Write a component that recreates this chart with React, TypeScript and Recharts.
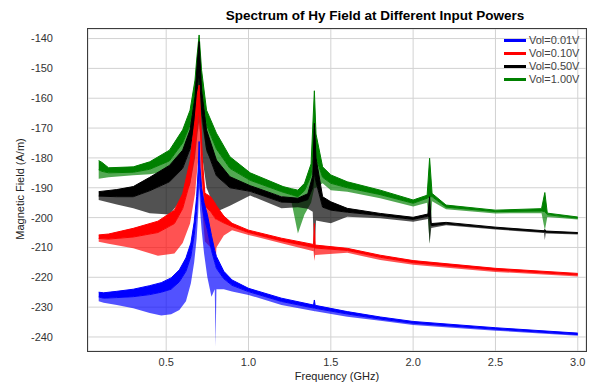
import React from 'react';
import { ComposedChart, Area, XAxis, YAxis, CartesianGrid } from 'recharts';

// ---------- data (GHz, A/m) : upper envelope, solid core edge, comb lower envelope ----------
const blueFreq = [0.09, 0.12, 0.2, 0.3, 0.4, 0.47, 0.53, 0.58, 0.62, 0.65, 0.67, 0.685, 0.695, 0.7, 0.705, 0.715, 0.73, 0.75, 0.775, 0.795, 0.8, 0.805, 0.85, 0.9, 1.0, 1.2, 1.395, 1.4, 1.405, 1.6, 1.8, 2.0, 2.5, 3.0];
const blueTop = [-225.0, -225.2, -224.7, -224.0, -222.8, -221.8, -220.2, -217.5, -213.5, -208.5, -201.5, -193, -183, -174.5, -183, -190, -195, -199, -206, -211, -212, -213, -218, -220.9, -223.7, -227.0, -229.3, -227.6, -229.4, -231.5, -233.3, -234.8, -236.9, -238.7];
const blueCore = [-226.6, -227.0, -226.8, -226.5, -225.8, -225.0, -224.0, -221.5, -218.0, -213.0, -206.0, -198, -189, -181, -189, -195, -200, -204, -211, -215, -216, -217, -220.5, -222.7, -224.8, -228.1, -230.3, -230.3, -230.4, -232.3, -234.0, -235.4, -237.4, -239.2];
const blueBottom = [-228.0, -228.5, -229.3, -230.4, -232.0, -232.8, -232.4, -231.0, -228.0, -222.0, -215.0, -207, -198, -190, -197, -204, -212, -220, -226.5, -224, -243.2, -224, -224, -224.8, -225.9, -229.3, -231.3, -231.4, -231.4, -233.2, -234.6, -236.0, -237.9, -239.6];

const redFreq = [0.09, 0.15, 0.3, 0.45, 0.55, 0.6, 0.645, 0.675, 0.69, 0.7, 0.71, 0.72, 0.735, 0.77, 0.795, 0.8, 0.805, 0.85, 0.9, 1.0, 1.2, 1.395, 1.4, 1.405, 1.6, 1.8, 2.0, 2.5, 3.0];
const redTop = [-205.8, -205.5, -203.6, -201.2, -197.5, -192, -181, -167.3, -158.3, -155.6, -167.3, -180.7, -191.8, -193, -195, -195.5, -196, -199.5, -201.9, -204.2, -206.9, -209.0, -202.0, -209.2, -210.3, -212.6, -214.4, -217.0, -218.7];
const redCore = [-207.0, -207.2, -206.5, -205.0, -202.0, -197, -188, -176, -167, -163, -173, -186, -196, -198, -200, -200.5, -200.5, -201.8, -203.0, -205.0, -207.8, -210.0, -210.0, -210.2, -211.0, -213.3, -215.1, -217.6, -219.2];
const redBottom = [-208.1, -208.8, -210.3, -212.8, -212.0, -208.5, -202, -192, -183, -178, -187, -198, -208, -210, -211, -216, -210, -206, -204.2, -205.8, -208.6, -211.3, -214.5, -212.5, -211.8, -214.2, -215.8, -218.2, -219.7];

const blackFreq = [0.09, 0.2, 0.3, 0.4, 0.52, 0.6, 0.645, 0.675, 0.69, 0.7, 0.715, 0.745, 0.805, 0.887, 1.01, 1.2, 1.3, 1.36, 1.39, 1.4, 1.41, 1.45, 1.5, 1.6, 1.8, 2.0, 2.09, 2.1, 2.11, 2.2, 2.5, 2.795, 2.8, 2.805, 3.0];
const blackTop = [-191.3, -190.6, -189.6, -186.5, -182.5, -177.4, -170.6, -159.5, -147.2, -141.0, -157.3, -170.6, -180.7, -186.3, -189.3, -193.0, -193.5, -192.0, -186.0, -168.4, -180.0, -193.0, -194.7, -196.9, -198.6, -199.9, -198.8, -193.0, -202.0, -201.6, -203.2, -204.4, -204.0, -204.5, -205.0];
const blackCore = [-192.8, -193.0, -193.0, -191.0, -188.0, -183.5, -177.0, -167.0, -156.0, -151.0, -164.0, -177.0, -186.0, -190.0, -191.2, -194.8, -195.0, -194.0, -190.0, -185.0, -188.0, -196.5, -197.5, -198.2, -199.3, -200.6, -199.5, -200.0, -202.7, -202.1, -203.6, -204.8, -204.8, -204.9, -205.3];
const blackBottom = [-194.1, -195.6, -196.9, -198.5, -199.0, -193.5, -189.0, -180.0, -172.0, -168.0, -178.0, -190.0, -198.0, -196.0, -192.6, -196.9, -196.5, -197.0, -198.0, -213.0, -201.0, -201.4, -201.9, -199.7, -200.2, -201.4, -200.5, -208.8, -203.5, -202.6, -204.0, -205.2, -207.5, -205.3, -205.7];

const greenFreq = [0.09, 0.11, 0.15, 0.3, 0.4, 0.52, 0.6, 0.645, 0.675, 0.685, 0.7, 0.715, 0.745, 0.805, 0.887, 1.01, 1.21, 1.26, 1.3, 1.34, 1.38, 1.4, 1.41, 1.45, 1.5, 1.6, 1.8, 2.0, 2.085, 2.1, 2.115, 2.2, 2.5, 2.78, 2.8, 2.815, 3.0];
const greenTop = [-180.9, -181.5, -183.3, -183.0, -181.3, -177.4, -170.6, -164.0, -153.9, -147.2, -138.8, -150.6, -164.0, -171.7, -179.6, -185.0, -189.6, -190.3, -190.8, -188.5, -182.0, -157.5, -172.0, -183.0, -185.7, -188.0, -190.8, -194.1, -192.5, -180.1, -191.9, -195.8, -197.5, -197.0, -191.6, -198.5, -199.8];
const greenCore = [-184.0, -184.5, -185.0, -184.8, -183.8, -181.0, -175.0, -169.0, -159.0, -153.0, -147.0, -157.0, -169.0, -177.0, -183.5, -187.5, -191.5, -192.3, -193.0, -191.0, -186.0, -175.0, -180.0, -186.5, -188.5, -190.0, -192.3, -195.2, -193.5, -193.0, -193.0, -196.5, -198.0, -197.8, -198.0, -199.0, -200.2];
const greenBottom = [-187.0, -186.8, -186.5, -185.8, -185.5, -184.5, -181.0, -176.0, -168.0, -163.0, -160.0, -168.0, -178.0, -184.0, -188.0, -189.6, -193.0, -194.5, -205.3, -199.0, -195.0, -190.0, -190.0, -188.5, -190.8, -191.3, -193.5, -196.3, -195.0, -208.8, -194.5, -197.2, -198.6, -198.5, -204.2, -199.8, -200.6];

const seriesNames = ['Vol=0.01V', 'Vol=0.10V', 'Vol=0.50V', 'Vol=1.00V'];
const xTicks = [0.5, 1.0, 1.5, 2.0, 2.5, 3.0];
const yTicks = [-240, -230, -220, -210, -200, -190, -180, -170, -160, -150, -140];

// ---------- styling ----------
const colors = ['#0000ff', '#ff0000', '#000000', '#008000'];
const FONT = '"Liberation Sans", Arial, sans-serif';

function buildRows(f: number[], top: number[], core: number[], bottom: number[]) {
  return f.map((x, i) => ({ f: x, solid: [core[i], top[i]], comb: [bottom[i], core[i]] }));
}

const allRows = [
  buildRows(blueFreq, blueTop, blueCore, blueBottom),
  buildRows(redFreq, redTop, redCore, redBottom),
  buildRows(blackFreq, blackTop, blackCore, blackBottom),
  buildRows(greenFreq, greenTop, greenCore, greenBottom),
];

const drawOrder = [3, 2, 1, 0];

export default function App() {
  const W = 589;
  const H = 384;
  const plot = { left: 88, top: 29, right: 586, bottom: 351 };
  return (
    <div style={{ position: 'absolute', left: 0, top: 0, width: W, height: H, background: '#fff', fontFamily: FONT }}>
      <ComposedChart width={W} height={H} margin={{ top: plot.top, right: W - plot.right, left: 0, bottom: 0 }}>
        <CartesianGrid stroke="#d2d2d2" strokeWidth={1} />
        <XAxis
          dataKey="f"
          type="number"
          domain={[0.025, 3.05]}
          ticks={xTicks}
          allowDataOverflow
          height={H - plot.bottom}
          tickFormatter={(v: number) => v.toFixed(1)}
          tickLine={false}
          tickSize={0}
          tickMargin={7}
          axisLine={false}
          tick={{ fill: '#333', fontSize: 11, fontFamily: FONT }}
        />
        <YAxis
          type="number"
          domain={[-244.7, -136.8]}
          ticks={yTicks}
          allowDataOverflow
          width={plot.left}
          tickLine={false}
          tickSize={0}
          tickMargin={35}
          axisLine={false}
          tick={{ fill: '#333', fontSize: 11, fontFamily: FONT }}
        />
        {drawOrder.flatMap((i) => [
          <Area
            key={'comb' + i}
            data={allRows[i]}
            dataKey="comb"
            type="linear"
            fill={colors[i]}
            fillOpacity={0.68}
            stroke="none"
            dot={false}
            activeDot={false}
            isAnimationActive={false}
            legendType="none"
          />,
          <Area
            key={'solid' + i}
            data={allRows[i]}
            dataKey="solid"
            name={seriesNames[i]}
            type="linear"
            fill={colors[i]}
            fillOpacity={1}
            stroke={colors[i]}
            strokeWidth={1}
            dot={false}
            activeDot={false}
            isAnimationActive={false}
          />,
        ])}
      </ComposedChart>
      {/* frame */}
      <div
        style={{
          position: 'absolute',
          left: plot.left - 1,
          top: plot.top - 1,
          width: plot.right - plot.left,
          height: plot.bottom - plot.top,
          border: '1px solid #3c3c3c',
          pointerEvents: 'none',
        }}
      />
      {/* title */}
      <div
        style={{
          position: 'absolute',
          left: 175,
          width: 400,
          top: 8,
          textAlign: 'center',
          fontWeight: 'bold',
          fontSize: 13.5,
          color: '#000',
          whiteSpace: 'nowrap',
        }}
      >
        Spectrum of Hy Field at Different Input Powers
      </div>
      {/* x label */}
      <div
        style={{
          position: 'absolute',
          left: plot.left,
          width: plot.right - plot.left,
          top: 370,
          textAlign: 'center',
          fontSize: 11,
          color: '#222',
          whiteSpace: 'nowrap',
        }}
      >
        Frequency (GHz)
      </div>
      {/* y label */}
      <div
        style={{
          position: 'absolute',
          left: 20 - 100,
          top: 190 - 7,
          width: 200,
          textAlign: 'center',
          fontSize: 11,
          color: '#222',
          whiteSpace: 'nowrap',
          transform: 'rotate(-90deg)',
          transformOrigin: '50% 50%',
        }}
      >
        Magnetic Field (A/m)
      </div>
      {/* legend */}
      <div style={{ position: 'absolute', left: 504, top: 34, pointerEvents: 'none' }}>
        {seriesNames.map((n, i) => (
          <div key={n} style={{ display: 'flex', alignItems: 'center', height: 13 }}>
            <div style={{ width: 22, height: 3, background: colors[i], marginRight: 3 }} />
            <span style={{ fontSize: 11, color: '#444', lineHeight: '13px' }}>{n}</span>
          </div>
        ))}
      </div>
    </div>
  );
}
